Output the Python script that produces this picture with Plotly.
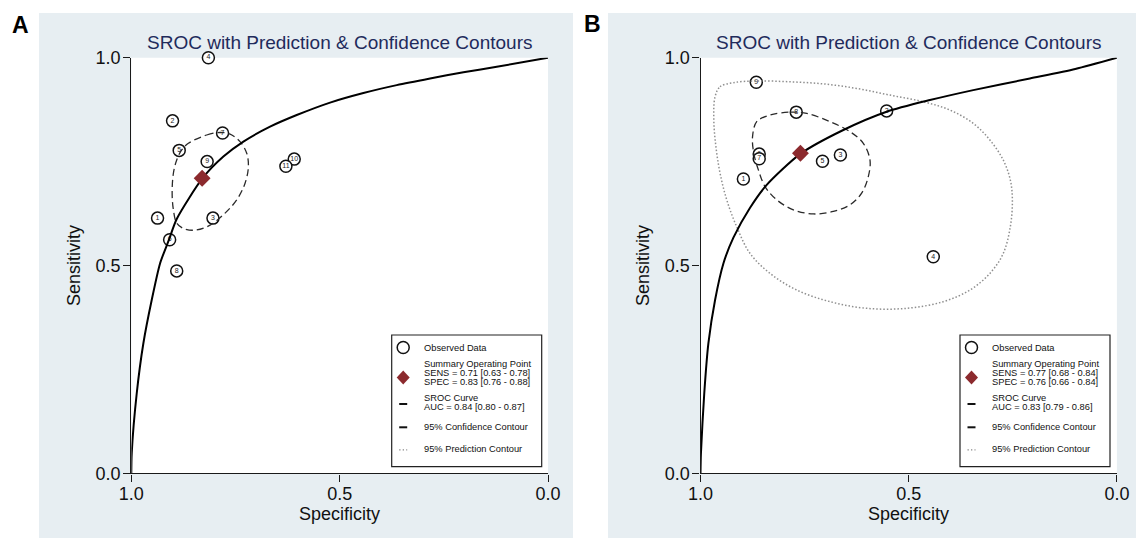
import plotly.graph_objects as go

W, H = 1136, 538
FONT = "Liberation Sans, Arial, Helvetica, sans-serif"
BG = "#e7eef2"
NAVY = "#1f2b5c"
DARKRED = "#8c2a2e"

# ---------------- Panel A data ----------------
a_ids = ["1", "2", "3", "4", "5", "6", "7", "8", "9", "10", "11"]
a_spec = [0.937, 0.901, 0.804, 0.815, 0.885, 0.908, 0.781, 0.891, 0.818, 0.609, 0.629]
a_sens = [0.614, 0.848, 0.614, 1.000, 0.777, 0.562, 0.819, 0.487, 0.750, 0.756, 0.739]
a_sens_ci = [0.71, 0.63, 0.78]
a_spec_ci = [0.83, 0.76, 0.88]
a_auc_ci = [0.84, 0.80, 0.87]
a_curve_spec = [1.000, 0.999, 0.987, 0.971, 0.951, 0.931, 0.910, 0.891, 0.829, 0.779,
                0.731, 0.667, 0.603, 0.523, 0.443, 0.363, 0.283, 0.203, 0.123, 0.000]
a_curve_sens = [0.000, 0.048, 0.192, 0.313, 0.417, 0.505, 0.561, 0.612, 0.710, 0.762,
                0.798, 0.834, 0.862, 0.892, 0.915, 0.934, 0.950, 0.965, 0.978, 1.000]
a_conf_spec = [0.863, 0.819, 0.787, 0.763, 0.739, 0.723, 0.719, 0.727, 0.747, 0.775,
               0.811, 0.847, 0.875, 0.891, 0.899, 0.902, 0.899, 0.891, 0.879, 0.863]
a_conf_sens = [0.794, 0.814, 0.820, 0.816, 0.798, 0.770, 0.738, 0.698, 0.658, 0.626,
               0.597, 0.585, 0.589, 0.602, 0.634, 0.674, 0.722, 0.754, 0.778, 0.794]

# ---------------- Panel B data ----------------
b_ids = ["1", "2", "3", "4", "5", "6", "7", "8", "9"]
b_spec = [0.897, 0.553, 0.664, 0.441, 0.707, 0.859, 0.859, 0.770, 0.866]
b_sens = [0.708, 0.872, 0.766, 0.521, 0.751, 0.768, 0.757, 0.869, 0.941]
b_sens_ci = [0.77, 0.68, 0.84]
b_spec_ci = [0.76, 0.66, 0.84]
b_auc_ci = [0.83, 0.79, 0.86]
b_curve_spec = [1.000, 0.999, 0.991, 0.981, 0.965, 0.945, 0.921, 0.881, 0.841, 0.761,
                0.657, 0.553, 0.449, 0.345, 0.209, 0.100, 0.000]
b_curve_sens = [0.000, 0.048, 0.192, 0.313, 0.417, 0.505, 0.567, 0.639, 0.694, 0.768,
                0.826, 0.870, 0.898, 0.922, 0.950, 0.973, 1.000]
b_conf_spec = [0.833, 0.785, 0.745, 0.689, 0.641, 0.609, 0.593, 0.597, 0.613, 0.641,
               0.681, 0.729, 0.777, 0.817, 0.845, 0.861, 0.872, 0.875, 0.865, 0.833]
b_conf_sens = [0.862, 0.869, 0.866, 0.846, 0.822, 0.794, 0.754, 0.714, 0.674, 0.646,
               0.630, 0.624, 0.634, 0.658, 0.690, 0.730, 0.770, 0.810, 0.846, 0.862]
b_pred_spec = [0.965, 0.953, 0.921, 0.865, 0.785, 0.705, 0.625, 0.545, 0.465, 0.401,
               0.345, 0.305, 0.273, 0.256, 0.251, 0.256, 0.273, 0.305, 0.353, 0.417,
               0.505, 0.601, 0.689, 0.769, 0.833, 0.881, 0.913, 0.937, 0.953, 0.963,
               0.968, 0.965]
b_pred_sens = [0.906, 0.930, 0.940, 0.944, 0.942, 0.937, 0.926, 0.910, 0.894, 0.874,
               0.842, 0.802, 0.754, 0.706, 0.658, 0.593, 0.529, 0.481, 0.441, 0.413,
               0.397, 0.397, 0.413, 0.441, 0.481, 0.529, 0.593, 0.658, 0.722, 0.786,
               0.850, 0.906]

tick_vals = [0.0, 0.5, 1.0]
tick_text = ["0.0", "0.5", "1.0"]
title_text = "SROC with Prediction & Confidence Contours"
legend_labels = ["Observed Data", "Summary Operating Point", "SROC Curve",
                 "95% Confidence Contour", "95% Prediction Contour"]


def fx(x):
    return x / W


def fy(y):
    return 1 - y / H


fig = go.Figure()

panels = [
    dict(xa="x", ya="y", ids=a_ids, spec=a_spec, sens=a_sens, sens_ci=a_sens_ci,
         spec_ci=a_spec_ci, auc=a_auc_ci, cs=a_curve_spec, cse=a_curve_sens,
         conf=(a_conf_spec, a_conf_sens), pred=None),
    dict(xa="x2", ya="y2", ids=b_ids, spec=b_spec, sens=b_sens, sens_ci=b_sens_ci,
         spec_ci=b_spec_ci, auc=b_auc_ci, cs=b_curve_spec, cse=b_curve_sens,
         conf=(b_conf_spec, b_conf_sens), pred=(b_pred_spec, b_pred_sens)),
]

for p in panels:
    # each study drawn in order so later circles sit on top of earlier ones
    for sid, sx_, sy_ in zip(p["ids"], p["spec"], p["sens"]):
        fig.add_trace(go.Scatter(
            x=[sx_], y=[sy_], text=[sid], mode="markers+text", cliponaxis=False,
            textposition="middle center", textfont=dict(size=7, color="#222", family=FONT),
            marker=dict(symbol="circle", size=12, color="white",
                        line=dict(width=1.5, color="#111")),
            xaxis=p["xa"], yaxis=p["ya"], showlegend=False, hoverinfo="skip"))
    if p["pred"] is not None:
        fig.add_trace(go.Scatter(
            x=p["pred"][0], y=p["pred"][1], mode="lines",
            line=dict(color="#8f8f8f", width=1.5, dash="1.5px,2px", shape="spline", smoothing=1.0),
            xaxis=p["xa"], yaxis=p["ya"], showlegend=False, hoverinfo="skip"))
    fig.add_trace(go.Scatter(
        x=p["conf"][0], y=p["conf"][1], mode="lines",
        line=dict(color="#2a2a2a", width=1.3, dash="7px,4px", shape="spline", smoothing=1.0),
        xaxis=p["xa"], yaxis=p["ya"], showlegend=False, hoverinfo="skip"))
    fig.add_trace(go.Scatter(
        x=p["cs"], y=p["cse"], mode="lines", cliponaxis=False,
        line=dict(color="#000", width=2, shape="spline", smoothing=0.7),
        xaxis=p["xa"], yaxis=p["ya"], showlegend=False, hoverinfo="skip"))
    fig.add_trace(go.Scatter(
        x=[p["spec_ci"][0]], y=[p["sens_ci"][0]], mode="markers",
        marker=dict(symbol="diamond", size=13, color=DARKRED, line=dict(width=0)),
        xaxis=p["xa"], yaxis=p["ya"], showlegend=False, hoverinfo="skip"))

# panel geometry (pixels)
geo = [
    dict(bg=(39, 13, 573, 538), plot=(131.3, 57.7, 548.0, 473.3), letter="A", letter_xy=(20, 25),
         ytitle_x=73.5, legend_x0=391.7),
    dict(bg=(608, 13, 1136, 538), plot=(700.5, 57.7, 1116.9, 473.3), letter="B", letter_xy=(592, 24),
         ytitle_x=642.5, legend_x0=960.0),
]

shapes = []
annotations = []
axis_common = dict(range=[0, 1], tickvals=tick_vals, ticktext=tick_text, ticks="outside",
                   ticklen=7, tickwidth=1.4, tickcolor="#1a1a1a", showline=True,
                   linecolor="#1a1a1a", linewidth=1.4, showgrid=False, zeroline=False,
                   tickfont=dict(size=18, color="#111", family=FONT), automargin=False)

layout_axes = {}
for i, (g, p) in enumerate(zip(geo, panels)):
    x0, y0, x1, y1 = g["plot"]
    sfx = "" if i == 0 else "2"
    xa = dict(axis_common)
    xa.update(domain=[fx(x0), fx(x1)], range=[1, 0], anchor="y" + sfx, ticklabelstandoff=-3)
    ya = dict(axis_common)
    ya.update(domain=[fy(y1), fy(y0)], range=[0, 1], anchor="x" + sfx, ticklabelstandoff=-1)
    layout_axes["xaxis" + sfx] = xa
    layout_axes["yaxis" + sfx] = ya

    bx0, by0, bx1, by1 = g["bg"]
    shapes.append(dict(type="rect", xref="paper", yref="paper", x0=fx(bx0), x1=fx(bx1),
                       y0=fy(by1), y1=fy(by0), fillcolor=BG, line=dict(width=0), layer="below"))
    shapes.append(dict(type="rect", xref="x" + sfx + " domain", yref="y" + sfx + " domain",
                       x0=0, x1=1, y0=0, y1=1, fillcolor="white", line=dict(width=0), layer="below"))

    cx = (x0 + x1) / 2
    annotations.append(dict(text=title_text, x=fx(cx), y=fy(42.5), xref="paper", yref="paper",
                            showarrow=False, xanchor="center", yanchor="middle",
                            font=dict(size=19, color=NAVY, family=FONT)))
    annotations.append(dict(text="<b>%s</b>" % g["letter"], x=fx(g["letter_xy"][0]), y=fy(g["letter_xy"][1]),
                            xref="paper", yref="paper", showarrow=False, xanchor="center",
                            yanchor="middle", font=dict(size=23, color="#000", family=FONT)))
    annotations.append(dict(text="Specificity", x=fx(cx), y=fy(513.5), xref="paper", yref="paper",
                            showarrow=False, xanchor="center", yanchor="middle",
                            font=dict(size=18, color="#111", family=FONT)))
    annotations.append(dict(text="Sensitivity", x=fx(g["ytitle_x"]), y=fy((y0 + y1) / 2),
                            xref="paper", yref="paper", showarrow=False, textangle=-90,
                            xanchor="center", yanchor="middle",
                            font=dict(size=18, color="#111", family=FONT)))

    # ---- legend box ----
    lx = g["legend_x0"]
    lw = 150.0
    shapes.append(dict(type="rect", xref="paper", yref="paper", x0=fx(lx), x1=fx(lx + lw),
                       y0=fy(466.7), y1=fy(335.0), fillcolor="white",
                       line=dict(color="#222", width=1.2)))
    sx = lx + 11.5
    r = 6
    shapes.append(dict(type="circle", xref="paper", yref="paper", x0=fx(sx - r), x1=fx(sx + r),
                       y0=fy(347.5 + r), y1=fy(347.5 - r), line=dict(color="#111", width=1.5)))
    dy = 377.5
    shapes.append(dict(type="path", xref="paper", yref="paper",
                       path="M %f,%f L %f,%f L %f,%f L %f,%f Z" % (
                           fx(sx - 6.5), fy(dy), fx(sx), fy(dy - 7), fx(sx + 6.5), fy(dy),
                           fx(sx), fy(dy + 7)),
                       fillcolor=DARKRED, line=dict(width=0)))
    shapes.append(dict(type="line", xref="paper", yref="paper", x0=fx(sx - 4), x1=fx(sx + 4),
                       y0=fy(404), y1=fy(404), line=dict(color="#111", width=2)))
    shapes.append(dict(type="line", xref="paper", yref="paper", x0=fx(sx - 4), x1=fx(sx + 4),
                       y0=fy(427.3), y1=fy(427.3), line=dict(color="#111", width=2)))
    shapes.append(dict(type="line", xref="paper", yref="paper", x0=fx(sx - 4), x1=fx(sx + 4),
                       y0=fy(449.8), y1=fy(449.8), line=dict(color="#888", width=1.3, dash="1.3px,2.2px")))

    tx = lx + 30
    sens_ci, spec_ci, auc = p["sens_ci"], p["spec_ci"], p["auc"]
    rows = [
        (legend_labels[0], 348.3),
        (legend_labels[1], 364.3),
        ("SENS = %.2f [%.2f - %.2f]" % tuple(sens_ci), 372.9),
        ("SPEC = %.2f [%.2f - %.2f]" % tuple(spec_ci), 381.7),
        (legend_labels[2], 398.3),
        ("AUC = %.2f [%.2f - %.2f]" % tuple(auc), 407.3),
        (legend_labels[3], 427.3),
        (legend_labels[4], 449.3),
    ]
    for txt, yy in rows:
        annotations.append(dict(text=txt, x=fx(tx), y=fy(yy), xref="paper", yref="paper",
                                showarrow=False, xanchor="left", yanchor="middle",
                                font=dict(size=9.3, color="#111", family=FONT)))

fig.update_layout(
    width=W, height=H, margin=dict(l=0, r=0, t=0, b=0),
    paper_bgcolor="white", plot_bgcolor="white",
    showlegend=False, shapes=shapes, annotations=annotations,
    font=dict(family=FONT), **layout_axes)

fig.write_html(
    "out.html",
    config={"displayModeBar": False},
    post_script="document.body.style.margin='0px';document.documentElement.style.overflow='hidden';")
